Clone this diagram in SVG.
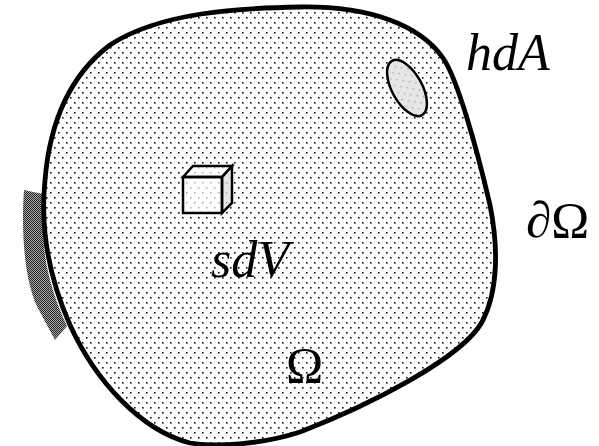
<svg xmlns="http://www.w3.org/2000/svg" width="599" height="446" viewBox="0 0 599 446">
<defs>
<pattern id="dots" x="0" y="0" width="8" height="10" patternUnits="userSpaceOnUse">
<rect x="2" y="2" width="1.6" height="1.6" fill="#111"/>
<rect x="6" y="7" width="1.6" height="1.6" fill="#111"/>
</pattern>
<pattern id="ldots" x="0" y="0" width="8" height="10" patternUnits="userSpaceOnUse">
<rect x="2" y="2" width="1.5" height="1.5" fill="#aaa"/>
<rect x="6" y="7" width="1.5" height="1.5" fill="#aaa"/>
</pattern>
<pattern id="check" x="0" y="0" width="2" height="2" patternUnits="userSpaceOnUse">
<rect width="2" height="2" fill="#aaa"/>
<rect x="0" y="0" width="1" height="1" fill="#222"/>
<rect x="1" y="1" width="1" height="1" fill="#222"/>
</pattern>
<style>
.lbl{font-family:"Liberation Serif","Times New Roman",serif;fill:#000}
.it{font-style:italic}
.edge{stroke:#000;stroke-linejoin:miter}
</style>
</defs>
<rect width="599" height="446" fill="#fff"/>
<g id="strip">
<path d="M24,190 C21,230 24,285 40,312 L55,340 L67,326 C55,300 44,270 43,230 L43,194 Z" fill="url(#check)"/>
</g>
<g id="domain">
<path d="M300,7 C370,6 420,25 443,58 C457,78 476,145 490,205 C498,245 499,290 482,322 C462,358 370,405 300,432 C260,445 215,447 190,443 C140,430 95,380 70,325 C50,280 40,230 45,180 C50,120 70,75 110,45 C160,12 240,8 300,7 Z" fill="#fff"/>
<path d="M300,7 C370,6 420,25 443,58 C457,78 476,145 490,205 C498,245 499,290 482,322 C462,358 370,405 300,432 C260,445 215,447 190,443 C140,430 95,380 70,325 C50,280 40,230 45,180 C50,120 70,75 110,45 C160,12 240,8 300,7 Z" fill="url(#dots)" stroke="#000" stroke-width="4.8"/>
</g>
<g id="area">
<ellipse cx="407" cy="88" rx="31" ry="15" transform="rotate(61 407 88)" fill="#e6e6e6"/>
<ellipse cx="407" cy="88" rx="31" ry="15" transform="rotate(61 407 88)" fill="url(#ldots)" stroke="#000" stroke-width="2.5"/>
</g>
<g id="cube">
<rect x="183" y="177" width="39" height="36" fill="#fff"/>
<polygon points="183,177 193,166 232,166 222,177" fill="#fff"/>
<polygon points="222,177 232,166 232,203 222,213" fill="#e6e6e6"/>
<g fill="url(#ldots)" class="edge" stroke-width="2.5">
<rect x="183" y="177" width="39" height="36"/>
<polygon points="183,177 193,166 232,166 222,177"/>
<polygon points="222,177 232,166 232,203 222,213"/>
</g>
</g>
<g id="labels">
<text class="lbl it" x="466" y="70" font-size="52">hdA</text>
<text class="lbl" x="526" y="237" font-size="51"><tspan class="it">∂</tspan>Ω</text>
<text class="lbl it" x="211" y="277" font-size="52">sdV</text>
<text class="lbl" x="286" y="382" font-size="50">Ω</text>
</g>
</svg>
